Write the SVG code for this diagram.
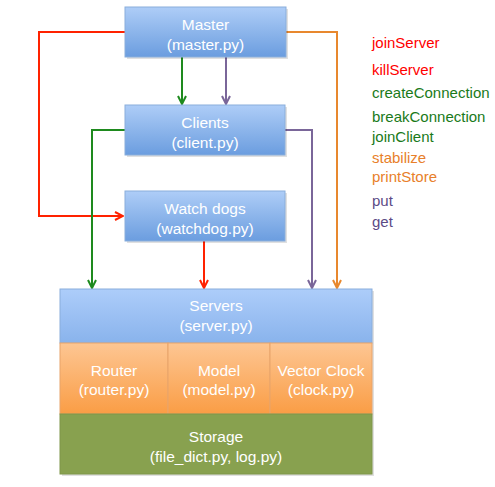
<svg xmlns="http://www.w3.org/2000/svg" width="495" height="487" viewBox="0 0 495 487">
<defs>
<linearGradient id="gBlue" x1="0" y1="0" x2="0" y2="1">
<stop offset="0" stop-color="#aecdf7"/>
<stop offset="1" stop-color="#6b9ddf"/>
</linearGradient>
<linearGradient id="gServer" x1="0" y1="0" x2="0" y2="1">
<stop offset="0" stop-color="#adcdfa"/>
<stop offset="1" stop-color="#89b3ec"/>
</linearGradient>
<linearGradient id="gOrange" x1="0" y1="0" x2="0" y2="1">
<stop offset="0" stop-color="#fdc693"/>
<stop offset="1" stop-color="#fa9d45"/>
</linearGradient>
<marker id="arrRed" viewBox="0 0 10 10" refX="9" refY="5" markerWidth="5" markerHeight="5" orient="auto"><path d="M1,1 L9,5 L1,9" fill="none" stroke="#ff2200" stroke-width="2"/></marker>
<marker id="arrGreen" viewBox="0 0 10 10" refX="9" refY="5" markerWidth="5" markerHeight="5" orient="auto"><path d="M1,1 L9,5 L1,9" fill="none" stroke="#1e8a1e" stroke-width="2"/></marker>
<marker id="arrPurple" viewBox="0 0 10 10" refX="9" refY="5" markerWidth="5" markerHeight="5" orient="auto"><path d="M1,1 L9,5 L1,9" fill="none" stroke="#7a6699" stroke-width="2"/></marker>
<marker id="arrOrange" viewBox="0 0 10 10" refX="9" refY="5" markerWidth="5" markerHeight="5" orient="auto"><path d="M1,1 L9,5 L1,9" fill="none" stroke="#e8882e" stroke-width="2"/></marker>
</defs>
<style>
.box{fill:url(#gBlue);stroke:#8aaedb;stroke-width:1}
.shadow{fill:#000;opacity:0.12}
.t{font-family:"Liberation Sans",Arial,sans-serif;font-size:15.5px;fill:#ffffff;text-anchor:middle}
.lg{font-family:"Liberation Sans",Arial,sans-serif;font-size:15px}
.red{fill:#ff0000}.green{fill:#1a7a1a}.orange{fill:#e8802a}.purple{fill:#5c4a86}
.c{fill:none;stroke-width:2}
</style>
<rect width="495" height="487" fill="#ffffff"/>
<g id="connectors">
<path class="c" d="M125,32 H39 V216 H123" stroke="#ff2200" marker-end="url(#arrRed)"/>
<path class="c" d="M182,57 V104" stroke="#1e8a1e" marker-end="url(#arrGreen)"/>
<path class="c" d="M226,57 V104" stroke="#7a6699" marker-end="url(#arrPurple)"/>
<path class="c" d="M125,130 H92 V288" stroke="#1e8a1e" marker-end="url(#arrGreen)"/>
<path class="c" d="M204,241 V288" stroke="#ff2200" marker-end="url(#arrRed)"/>
<path class="c" d="M285,130 H312 V288" stroke="#7a6699" marker-end="url(#arrPurple)"/>
<path class="c" d="M286,32 H337 V288" stroke="#e8882e" marker-end="url(#arrOrange)"/>
</g>
<g id="master">
<rect class="shadow" x="127" y="9" width="161" height="50"/>
<rect class="box" x="125" y="7" width="161" height="50"/>
<text class="t" x="205.5" y="30">Master</text>
<text class="t" x="205.5" y="50">(master.py)</text>
</g>
<g id="clients">
<rect class="shadow" x="127" y="107" width="160" height="50"/>
<rect class="box" x="125" y="105" width="160" height="50"/>
<text class="t" x="205" y="128">Clients</text>
<text class="t" x="205" y="148">(client.py)</text>
</g>
<g id="watchdogs">
<rect class="shadow" x="127" y="193" width="160" height="50"/>
<rect class="box" x="125" y="191" width="160" height="50"/>
<text class="t" x="205" y="214">Watch dogs</text>
<text class="t" x="205" y="234">(watchdog.py)</text>
</g>
<g id="servers">
<rect class="shadow" x="62" y="291" width="312" height="185"/>
<rect x="60" y="289" width="312" height="54" fill="url(#gServer)" stroke="#8aaedb"/>
<text class="t" x="216" y="311">Servers</text>
<text class="t" x="216" y="331">(server.py)</text>
</g>
<g id="router">
<rect x="60" y="343" width="108" height="71" fill="url(#gOrange)" stroke="#e8a46a"/>
<text class="t" x="114" y="376">Router</text>
<text class="t" x="114" y="395">(router.py)</text>
</g>
<g id="model">
<rect x="168" y="343" width="102" height="71" fill="url(#gOrange)" stroke="#e8a46a"/>
<text class="t" x="219" y="376">Model</text>
<text class="t" x="219" y="395">(model.py)</text>
</g>
<g id="clock">
<rect x="270" y="343" width="102" height="71" fill="url(#gOrange)" stroke="#e8a46a"/>
<text class="t" x="321" y="376">Vector Clock</text>
<text class="t" x="321" y="395">(clock.py)</text>
</g>
<g id="storage">
<rect x="60" y="414" width="312" height="60" fill="#88a14f" stroke="#7f964a"/>
<text class="t" x="216" y="442">Storage</text>
<text class="t" x="216" y="462">(file_dict.py, log.py)</text>
</g>
<g id="legend">
<text class="lg red" x="372" y="48">joinServer</text>
<text class="lg red" x="372" y="75">killServer</text>
<text class="lg green" x="372" y="98">createConnection</text>
<text class="lg green" x="372" y="122">breakConnection</text>
<text class="lg green" x="372" y="142">joinClient</text>
<text class="lg orange" x="372" y="163">stabilize</text>
<text class="lg orange" x="372" y="182">printStore</text>
<text class="lg purple" x="372" y="206">put</text>
<text class="lg purple" x="372" y="227">get</text>
</g>
</svg>
